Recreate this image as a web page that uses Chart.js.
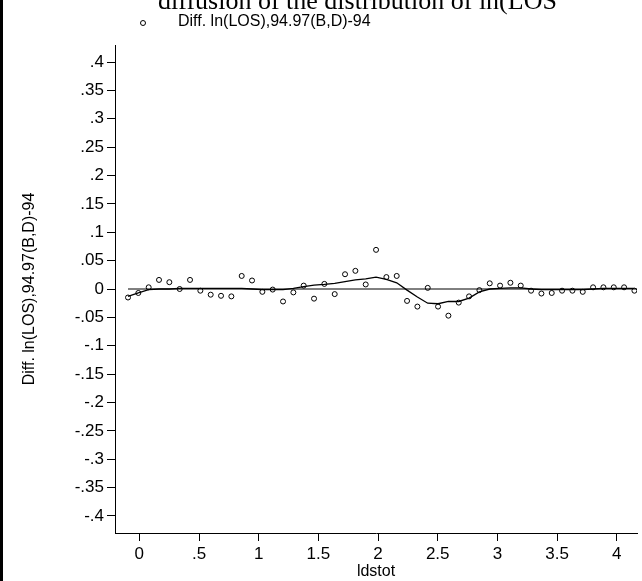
<!DOCTYPE html>
<html><head><meta charset="utf-8">
<script src="https://cdn.jsdelivr.net/npm/chart.js@4"></script>
<style>html,body{margin:0;padding:0;background:#fff}#c{display:block}</style>
</head><body>
<canvas id="c" width="642" height="581"></canvas>
<script>
// x positions of the binned points (ldstot)
const xStart = -0.095, xStep = 0.0866;
const diffValues = [-0.015,-0.007,0.003,0.016,0.012,0,0.016,-0.003,-0.010,-0.012,
  -0.013,0.023,0.015,-0.005,-0.001,-0.022,-0.006,0.006,-0.017,0.009,
  -0.009,0.026,0.032,0.008,0.069,0.021,0.023,-0.021,-0.031,0.002,
  -0.031,-0.047,-0.024,-0.013,-0.002,0.010,0.006,0.011,0.006,-0.003,
  -0.008,-0.007,-0.003,-0.003,-0.005,0.003,0.003,0.003,0.003,-0.003];
const smoothValues = [-0.013,-0.007,-0.001,0,0,0.001,0.001,0.001,0.001,0.001,
  0.001,0.001,0,-0.001,-0.001,-0.001,0.001,0.004,0.007,0.008,
  0.01,0.013,0.016,0.018,0.021,0.017,0.011,-0.002,-0.014,-0.025,
  -0.026,-0.022,-0.022,-0.016,-0.005,0,0.001,0.002,0.002,0,
  -0.001,-0.001,-0.001,-0.001,-0.001,0,0.001,0.001,0.001,0.001];
const yTicks = [0.4,0.35,0.3,0.25,0.2,0.15,0.1,0.05,0,-0.05,-0.1,-0.15,-0.2,-0.25,-0.3,-0.35,-0.4];
const xTicks = [0,0.5,1,1.5,2,2.5,3,3.5,4];

const xs = diffValues.map((v, i) => +(xStart + i * xStep).toFixed(4));
const fmt = v => v === 0 ? '0' : (v < 0 ? '-' : '') + String(Math.abs(v)).replace(/^0/, '');
const FONT = 'Liberation Sans, Arial, sans-serif';

const decor = {
  id: 'decor',
  afterDraw(chart) {
    const c = chart.ctx;
    c.save();
    c.fillStyle = '#000';
    c.fillRect(0, 0, 3, 581);
    c.font = '26px Liberation Serif, Times New Roman, serif';
    c.textBaseline = 'alphabetic';
    c.fillText('diffusion of the distribution of ln(LOS', 158, 9);
    c.beginPath(); c.lineWidth = 1; c.strokeStyle = '#000';
    c.arc(143, 23, 2.5, 0, Math.PI * 2); c.stroke();
    c.font = '16px ' + FONT;
    c.textBaseline = 'middle';
    c.fillText('Diff. ln(LOS),94.97(B,D)-94', 178, 22);
    c.restore();
  }
};

new Chart(document.getElementById('c'), {
  type: 'scatter',
  data: {
    datasets: [
      { data: xs.map((x, i) => ({ x, y: diffValues[i] })), showLine: false,
        pointStyle: 'circle', pointRadius: 2.5, borderColor: '#000', borderWidth: 1,
        backgroundColor: 'rgba(0,0,0,0)' },
      { data: xs.map((x, i) => ({ x, y: smoothValues[i] })), showLine: true, pointRadius: 0,
        borderColor: '#000', borderWidth: 1.3, tension: 0 },
      { data: [{ x: xStart, y: 0 }, { x: 4.2, y: 0 }], showLine: true, pointRadius: 0,
        borderColor: '#000', borderWidth: 1 }
    ]
  },
  options: {
    responsive: false, animation: false,
    layout: { padding: { top: 45, right: 0, left: 16, bottom: 0 } },
    plugins: { legend: { display: false }, tooltip: { enabled: false } },
    scales: {
      x: { type: 'linear', min: -0.204, max: 4.17,
        afterBuildTicks: a => { a.ticks = xTicks.map(v => ({ value: v })); },
        afterFit: a => { a.height = 48; },
        grid: { drawOnChartArea: false, color: '#000', tickLength: 8 },
        border: { color: '#000', width: 1 },
        ticks: { color: '#000', font: { size: 17, family: FONT }, padding: 3, maxRotation: 0, callback: v => fmt(v) },
        title: { display: true, text: 'ldstot', color: '#000', font: { size: 16, family: FONT }, padding: { top: -4, bottom: 0 } } },
      y: { min: -0.43, max: 0.43,
        afterBuildTicks: a => { a.ticks = yTicks.map(v => ({ value: v })); },
        afterFit: a => { a.width = 99; },
        grid: { drawOnChartArea: false, color: '#000', tickLength: 8 },
        border: { color: '#000', width: 1 },
        ticks: { color: '#000', font: { size: 17, family: FONT }, padding: 3, callback: v => fmt(v) },
        title: { display: true, text: 'Diff. ln(LOS),94.97(B,D)-94', color: '#000', font: { size: 16, family: FONT }, padding: 4 } }
    }
  },
  plugins: [decor]
});
</script>
</body></html>
